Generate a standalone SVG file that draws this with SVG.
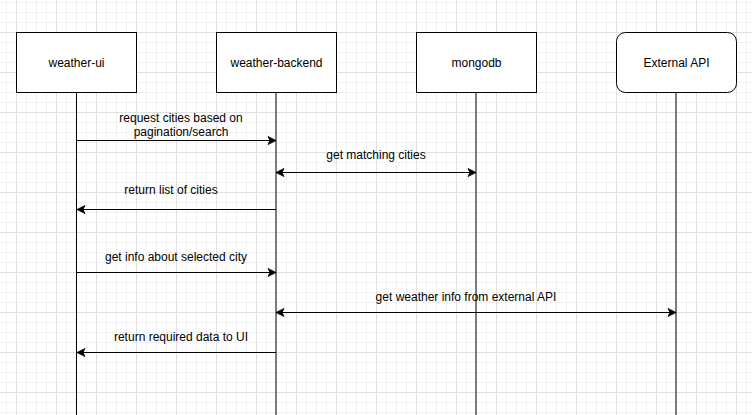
<svg xmlns="http://www.w3.org/2000/svg" width="752" height="415" viewBox="0 0 752 415">
<style>
.box{fill:#fff;stroke:#000;stroke-width:1}
.life{stroke:#000;stroke-width:1;fill:none}
.msg{stroke:#000;stroke-width:1;fill:none}
text{font-family:"Liberation Sans",Arial,Helvetica,sans-serif;font-size:12px;fill:#000;text-anchor:middle}
</style>
<defs>
<pattern id="grid" patternUnits="userSpaceOnUse" x="16" y="32" width="40" height="40">
<path d="M10.5 0V40M20.5 0V40M30.5 0V40M0 10.5H40M0 20.5H40M0 30.5H40" stroke="#f1f1f1" stroke-width="1" fill="none"/>
<path d="M0.5 0V40M0 0.5H40" stroke="#e0e0e0" stroke-width="1" fill="none"/>
</pattern>
<marker id="arr" viewBox="-9 -5 10 10" markerWidth="10" markerHeight="10" refX="0" refY="0" orient="auto-start-reverse" markerUnits="userSpaceOnUse">
<path d="M0,0 L-8,-4 L-6,0 L-8,4 Z" fill="#000" stroke="#000" stroke-width="0.8" stroke-linejoin="miter"/>
</marker>
</defs>
<rect width="752" height="415" fill="#fff"/>
<rect width="752" height="415" fill="url(#grid)"/>
<g id="lifelines">
<line class="life" x1="76.5" y1="92.5" x2="76.5" y2="415"/>
<line class="life" x1="276" y1="92.5" x2="276" y2="415"/>
<line class="life" x1="476" y1="92.5" x2="476" y2="415"/>
<line class="life" x1="676" y1="92.5" x2="676" y2="415"/>
</g>
<g id="weather-ui">
<rect class="box" x="16.5" y="32.5" width="120" height="60"/>
<text x="76.5" y="66.8">weather-ui</text>
</g>
<g id="weather-backend">
<rect class="box" x="216.5" y="32.5" width="120" height="60"/>
<text x="276.5" y="66.8">weather-backend</text>
</g>
<g id="mongodb">
<rect class="box" x="416.5" y="32.5" width="120" height="60"/>
<text x="476.5" y="66.8">mongodb</text>
</g>
<g id="external-api">
<rect class="box" x="616.5" y="32.5" width="120" height="60" rx="9" ry="9"/>
<text x="676.5" y="66.8">External API</text>
</g>
<g id="connectors">
<line class="msg" x1="76.5" y1="140.5" x2="276" y2="140.5" marker-end="url(#arr)"/>
<text x="181" y="122">request cities based on</text>
<text x="181" y="136">pagination/search</text>
<line class="msg" x1="276" y1="172.5" x2="476" y2="172.5" marker-start="url(#arr)" marker-end="url(#arr)"/>
<text x="376" y="159">get matching cities</text>
<line class="msg" x1="276" y1="209.5" x2="77" y2="209.5" marker-end="url(#arr)"/>
<text x="171" y="193.5">return list of cities</text>
<line class="msg" x1="76.5" y1="272.5" x2="276" y2="272.5" marker-end="url(#arr)"/>
<text x="176" y="261">get info about selected city</text>
<line class="msg" x1="276" y1="312.5" x2="676" y2="312.5" marker-start="url(#arr)" marker-end="url(#arr)"/>
<text x="466" y="301">get weather info from external API</text>
<line class="msg" x1="276" y1="352.5" x2="77" y2="352.5" marker-end="url(#arr)"/>
<text x="181" y="341">return required data to UI</text>
</g>
</svg>
